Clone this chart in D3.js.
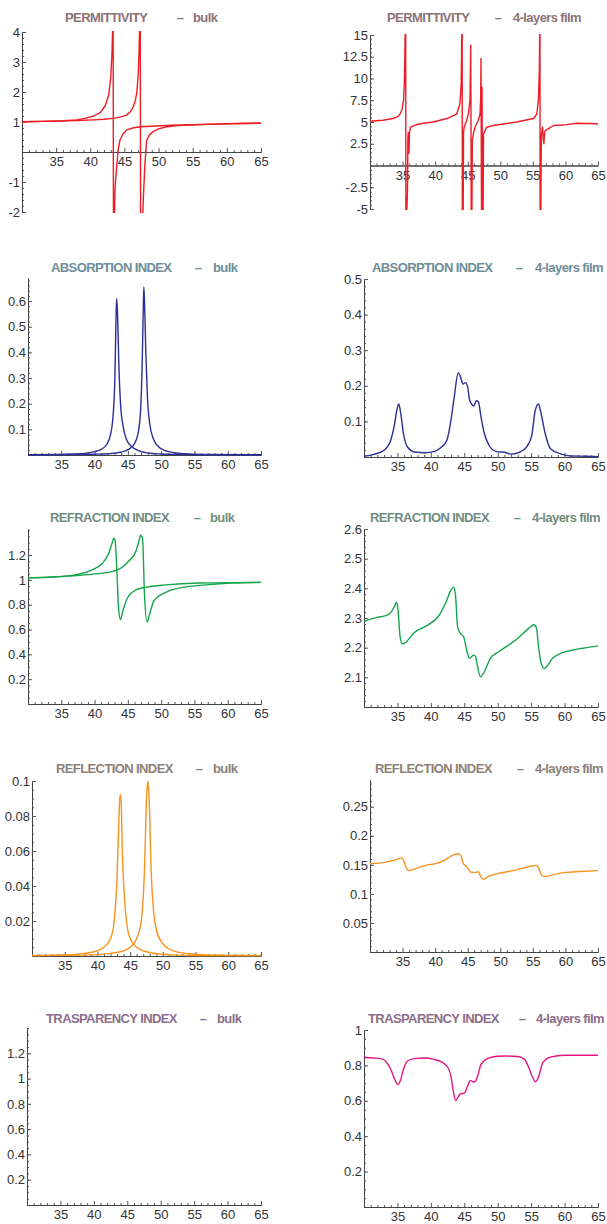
<!DOCTYPE html>
<html>
<head>
<meta charset="utf-8">
<script src="https://cdn.jsdelivr.net/npm/d3@7"></script>
<style>
  body { margin: 0; background: #fff; }
  svg { display: block; }
  .tick text { font-family: "Liberation Sans", Arial, sans-serif; font-size: 13px; fill: #333; }
  .title { font-family: "Liberation Sans", Arial, sans-serif; font-weight: bold; font-size: 13px; letter-spacing: -0.6px; }
</style>
</head>
<body>
<svg id="chart" width="607" height="1224"></svg>
<script>
// x range and labels shared by every panel
const xDomain = [30, 65];
const xTicks = [35, 40, 45, 50, 55, 60, 65];

// ---- permittivity ----
const permBulkA = [[30,1.01],[33,1.02],[36,1.04],[38,1.07],[39.2,1.12],[40.5,1.2],[41.5,1.32],[42.2,1.55],[42.7,1.9],[43.0,2.5],[43.2,3.4],[43.3,4.5],[43.33,7],[43.42,-7],[43.5,-2.5],[43.62,-1.2],[43.86,-0.49],[44.1,0.1],[44.35,0.4],[44.8,0.6],[45.3,0.73],[46.2,0.8],[47.3,0.84],[49,0.86],[52,0.89],[55,0.91],[58,0.93],[62,0.95],[65,0.96]];
const permBulkB = [[30,1.01],[35,1.03],[38,1.05],[40.4,1.07],[42,1.09],[43.4,1.12],[44.5,1.17],[45.3,1.23],[45.9,1.35],[46.3,1.51],[46.6,1.72],[46.8,1.96],[47.0,2.5],[47.15,3.4],[47.25,4.5],[47.3,7],[47.4,-7],[47.55,-3],[47.76,-1.6],[48.0,-0.4],[48.26,0.4],[48.7,0.58],[49.2,0.68],[50,0.77],[51.2,0.84],[52.5,0.87],[54.1,0.9],[57,0.92],[60,0.94],[65,0.96]];
const permFilm = [[30,5.09],[32,5.2],[33.5,5.4],[34.2,5.6],[34.6,5.9],[34.9,6.4],[35.15,7.5],[35.3,10],[35.4,15.5],[35.47,22],[35.53,-22],[35.62,-6],[35.75,-3],[35.82,3.2],[35.9,3.8],[35.98,1.4],[36.06,3.8],[36.2,4.4],[37,4.65],[37.7,4.8],[39.7,5.0],[41.8,5.4],[43.3,5.9],[43.8,7.1],[44.0,9.4],[44.1,15.5],[44.14,22],[44.2,-22],[44.3,-6],[44.36,3.8],[44.45,4.4],[44.8,5.1],[45.1,5.9],[45.35,7.5],[45.46,13.8],[45.52,2],[45.56,-22],[45.64,-6],[45.71,2.9],[45.86,3.6],[46.12,4.4],[46.63,5.2],[46.89,5.9],[46.99,7.8],[47.04,12.3],[47.1,-2],[47.14,-8],[47.2,9.0],[47.24,-3],[47.28,-22],[47.36,-6],[47.42,3.6],[47.9,4.4],[48.9,4.6],[52.5,5.0],[55.1,5.4],[55.6,5.9],[55.85,7.5],[56.0,11],[56.05,15.5],[56.08,22],[56.14,-22],[56.22,-6],[56.3,3.5],[56.5,4.4],[56.6,3.0],[56.7,2.5],[56.8,3.8],[56.9,4.0],[58.2,4.6],[60.2,4.7],[61.7,4.86],[65,4.8]];

// ---- absorption ----
const absBulkA = [[30,0.001],[34,0.002],[37,0.004],[38.5,0.006],[40,0.013],[41,0.022],[41.8,0.04],[42.4,0.08],[42.8,0.16],[43.05,0.3],[43.2,0.5],[43.3,0.61],[43.45,0.55],[43.65,0.35],[43.9,0.2],[44.3,0.11],[44.8,0.06],[45.5,0.035],[46.5,0.018],[48,0.008],[50,0.004],[53,0.002],[56,0.001],[65,0.0005]];
const absBulkB = [[30,0.0005],[36,0.001],[40,0.003],[42,0.005],[43.5,0.009],[44.5,0.015],[45.3,0.025],[46,0.045],[46.5,0.08],[46.9,0.17],[47.15,0.35],[47.3,0.55],[47.4,0.655],[47.5,0.6],[47.7,0.4],[47.95,0.22],[48.3,0.12],[48.8,0.065],[49.5,0.035],[50.5,0.018],[52,0.009],[54,0.004],[57,0.002],[65,0.0008]];
const absFilm = [[30,0.002],[31.5,0.0075],[33,0.019],[34,0.047],[34.5,0.085],[34.9,0.13],[35.2,0.149],[35.5,0.122],[35.9,0.066],[36.5,0.028],[37.6,0.014],[39.1,0.012],[40.6,0.016],[41.6,0.028],[42.4,0.047],[43,0.103],[43.5,0.169],[44.1,0.237],[44.4,0.227],[44.8,0.205],[45.2,0.209],[45.5,0.197],[45.8,0.16],[46.2,0.146],[46.4,0.143],[46.8,0.158],[47.1,0.155],[47.5,0.113],[48,0.066],[48.7,0.033],[49.7,0.016],[51.3,0.012],[51.9,0.008],[53.3,0.014],[54.3,0.028],[55.1,0.061],[55.6,0.13],[56.1,0.149],[56.4,0.13],[57.1,0.066],[57.9,0.023],[59.4,0.009],[60.9,0.003],[63.4,0.002],[65,0.0005]];

// ---- refraction ----
const refrBulkA = [[30,1.016],[33.1,1.02],[37.1,1.04],[39.6,1.08],[41.1,1.13],[42.1,1.21],[42.6,1.29],[42.9,1.335],[43.1,1.31],[43.4,1.01],[43.6,0.77],[43.9,0.68],[44.2,0.74],[44.9,0.85],[46.2,0.92],[47.7,0.94],[50.7,0.96],[55.7,0.975],[65,0.98]];
const refrBulkB = [[30,1.016],[35.6,1.03],[40.6,1.05],[43.1,1.075],[44.1,1.1],[45.1,1.15],[46.2,1.23],[46.7,1.32],[46.9,1.36],[47.2,1.335],[47.5,0.88],[47.9,0.66],[48.2,0.71],[48.9,0.83],[50.7,0.9],[53.2,0.94],[56.7,0.96],[60.7,0.975],[65,0.98]];
const refrFilm = [[30,2.288],[32.1,2.303],[33.1,2.307],[33.9,2.316],[34.6,2.341],[34.85,2.352],[35.05,2.335],[35.4,2.237],[35.7,2.213],[36.2,2.217],[37.4,2.249],[39.6,2.277],[41.1,2.305],[42.4,2.361],[43,2.395],[43.4,2.404],[43.7,2.373],[44,2.271],[44.4,2.249],[44.9,2.237],[45.4,2.187],[45.8,2.164],[46.1,2.17],[46.4,2.175],[46.7,2.17],[46.9,2.147],[47.4,2.102],[47.9,2.114],[48.9,2.164],[50.2,2.187],[52.7,2.226],[54.7,2.266],[55.4,2.277],[55.8,2.266],[56.1,2.204],[56.5,2.147],[57,2.13],[58.2,2.164],[59.7,2.183],[61.2,2.192],[62.7,2.198],[65,2.206]];

// ---- reflection ----
const reflBulkA = [[30,0.0003],[36,0.0008],[38,0.0015],[40,0.003],[41,0.005],[42,0.01],[42.5,0.018],[43,0.045],[43.3,0.08],[43.45,0.092],[43.6,0.091],[43.8,0.06],[44.1,0.035],[44.5,0.018],[45,0.01],[46,0.005],[47,0.003],[48,0.002],[50,0.001],[52,0.0005],[55,0.0003],[65,0.0002]];
const reflBulkB = [[30,0.0002],[40,0.0008],[42,0.0015],[44,0.003],[45,0.005],[46,0.01],[46.7,0.02],[47.2,0.05],[47.5,0.09],[47.7,0.1],[47.9,0.09],[48.2,0.05],[48.6,0.025],[49,0.015],[50,0.007],[51,0.004],[52,0.0025],[54,0.0013],[57,0.0006],[65,0.0003]];
const reflFilm = [[30,0.152],[31.4,0.153],[33,0.156],[34,0.159],[34.8,0.162],[35.1,0.159],[35.6,0.144],[36,0.14],[37.6,0.146],[38.8,0.15],[40.1,0.152],[41.6,0.159],[42.6,0.166],[43.4,0.169],[43.9,0.167],[44.3,0.153],[44.9,0.146],[45.5,0.137],[46.2,0.137],[46.6,0.138],[47,0.13],[47.4,0.125],[48.3,0.131],[49.3,0.134],[52.3,0.141],[54.9,0.148],[55.6,0.149],[55.9,0.144],[56.4,0.131],[56.9,0.13],[58.5,0.134],[60,0.137],[61.5,0.138],[65,0.14]];

// ---- trasparency ----
const traspFilm = [[30,0.845],[31.5,0.842],[32.5,0.838],[33.2,0.825],[34,0.778],[34.75,0.708],[35.1,0.692],[35.5,0.721],[35.9,0.778],[36.5,0.825],[37.5,0.838],[39,0.842],[40.5,0.834],[41.75,0.816],[42.5,0.791],[43,0.74],[43.35,0.655],[43.7,0.602],[44,0.617],[44.4,0.639],[45,0.643],[45.5,0.683],[45.9,0.715],[46.25,0.708],[46.6,0.708],[47,0.74],[47.5,0.806],[48.5,0.84],[50,0.852],[51,0.853],[53,0.85],[54,0.834],[54.75,0.778],[55.25,0.73],[55.65,0.708],[56.1,0.734],[56.75,0.816],[58,0.848],[60,0.857],[65,0.857]];

// titles, axis ranges and ticks
const titles = ["PERMITTIVITY", "ABSORPTION INDEX", "REFRACTION INDEX", "REFLECTION INDEX", "TRASPARENCY INDEX"];
const subtitles = ["bulk", "4-layers film"];
const lineColors = ["#ee1c25", "#2b2f96", "#13a54a", "#f7931e", "#e3157f"];
const titleColors = ["#8c7274", "#6f8c98", "#728c80", "#8c8179", "#8c6e89"];
const yDomains = [[-2, 4], [-5, 15], [0, 0.69], [0, 0.5], [0, 1.41], [2.0, 2.6], [0, 0.1], [0, 0.296], [0, 1.4], [0, 1]];
const yTicks = [
  [-2, -1, 1, 2, 3, 4],
  [-5, -2.5, 2.5, 5, 7.5, 10, 12.5, 15],
  [0.1, 0.2, 0.3, 0.4, 0.5, 0.6],
  [0.1, 0.2, 0.3, 0.4, 0.5],
  [0.2, 0.4, 0.6, 0.8, 1, 1.2],
  [2.1, 2.2, 2.3, 2.4, 2.5, 2.6],
  [0.02, 0.04, 0.06, 0.08, 0.1],
  [0.05, 0.1, 0.15, 0.2, 0.25],
  [0.2, 0.4, 0.6, 0.8, 1, 1.2],
  [0.2, 0.4, 0.6, 0.8, 1]
];
const yMinorStep = [0.2, 0.5, 0.02, 0.02, 0.05, 0.02, 0.005, 0.01, 0.05, 0.05];
const seriesList = [
  [permBulkA, permBulkB], [permFilm],
  [absBulkA, absBulkB], [absFilm],
  [refrBulkA, refrBulkB], [refrFilm],
  [reflBulkA, reflBulkB], [reflFilm],
  [], [traspFilm]
];

// layout of each panel on the page (pixels)
const layout = [
  { left: 22, right: 261, top: 32, bottom: 212, ty: 17, nameX: 65, dashX: 180, subX: 193 },
  { left: 370, right: 598, top: 35, bottom: 209, ty: 17, nameX: 387, dashX: 498, subX: 513 },
  { left: 28, right: 261, top: 278, bottom: 455, ty: 267, nameX: 51, dashX: 198, subX: 213 },
  { left: 364, right: 598, top: 279, bottom: 457, ty: 267, nameX: 372, dashX: 519, subX: 535 },
  { left: 28, right: 261, top: 529, bottom: 704, ty: 517, nameX: 50, dashX: 197, subX: 210 },
  { left: 364, right: 598, top: 529, bottom: 707, ty: 517, nameX: 370, dashX: 517, subX: 532 },
  { left: 32, right: 261, top: 781, bottom: 956, ty: 768, nameX: 56, dashX: 199, subX: 213 },
  { left: 370, right: 598, top: 780, bottom: 952, ty: 768, nameX: 375, dashX: 520, subX: 535 },
  { left: 27, right: 261, top: 1028, bottom: 1205, ty: 1018, nameX: 46, dashX: 203, subX: 217 },
  { left: 364, right: 598, top: 1030, bottom: 1207, ty: 1018, nameX: 368, dashX: 522, subX: 536 }
];

const svg = d3.select("#chart");
const fmt = (d) => String(+d.toFixed(3));

function styleAxis(g) {
  g.selectAll(".domain").attr("stroke", "#444").attr("stroke-width", 1);
  g.selectAll(".tick line").attr("stroke", "#555");
}

layout.forEach((L, i) => {
  const row = Math.floor(i / 2);
  const film = i % 2;
  const g = svg.append("g");

  const x = d3.scaleLinear().domain(xDomain).range([L.left, L.right]);
  const y = d3.scaleLinear().domain(yDomains[i]).range([L.bottom, L.top]);
  const axisY = yDomains[i][0] < 0 ? y(0) : L.bottom;

  // title
  const t = g.append("g").attr("class", "title").attr("fill", titleColors[row]);
  t.append("text").attr("x", L.nameX).attr("y", L.ty + 5).text(titles[row]);
  t.append("text").attr("x", L.dashX).attr("y", L.ty + 5).attr("text-anchor", "middle").text("–");
  t.append("text").attr("x", L.subX).attr("y", L.ty + 5).text(subtitles[film]);

  // minor ticks
  const xMinor = d3.range(31, 65, 1).filter((v) => v % 5 !== 0);
  g.append("g").attr("transform", `translate(0,${axisY})`)
    .call(d3.axisBottom(x).tickValues(xMinor).tickSize(-2).tickSizeOuter(0).tickFormat(""))
    .call(styleAxis);
  const [y0, y1] = yDomains[i];
  const step = yMinorStep[i];
  const yMinor = d3.range(Math.ceil(y0 / step), Math.floor(y1 / step + 1e-6) + 1).map((k) => k * step);
  g.append("g").attr("transform", `translate(${L.left},0)`)
    .call(d3.axisLeft(y).tickValues(yMinor).tickSize(-2).tickSizeOuter(0).tickFormat(""))
    .call(styleAxis);

  // major axes
  g.append("g").attr("transform", `translate(0,${axisY})`)
    .call(d3.axisBottom(x).tickValues(xTicks).tickSize(-4).tickSizeOuter(0).tickPadding(5).tickFormat(fmt))
    .call(styleAxis);
  g.append("g").attr("transform", `translate(${L.left},0)`)
    .call(d3.axisLeft(y).tickValues(yTicks[i]).tickSize(-4).tickSizeOuter(0).tickPadding(2).tickFormat(fmt))
    .call(styleAxis);

  // curves, clipped to the plot range
  const clipId = "clip" + i;
  g.append("clipPath").attr("id", clipId).append("rect")
    .attr("x", L.left).attr("y", L.top - 1)
    .attr("width", L.right - L.left + 2).attr("height", L.bottom - L.top + 2);

  const line = d3.line()
    .x((d) => x(d[0]))
    .y((d) => y(d[1]))
    .curve(row === 0 ? d3.curveLinear : d3.curveMonotoneX);

  g.append("g").attr("clip-path", `url(#${clipId})`)
    .selectAll("path")
    .data(seriesList[i])
    .enter()
    .append("path")
    .attr("d", (d) => line(d))
    .attr("fill", "none")
    .attr("stroke", lineColors[row])
    .attr("stroke-width", 1.4)
    .attr("stroke-linejoin", "round");
});
</script>
</body>
</html>
